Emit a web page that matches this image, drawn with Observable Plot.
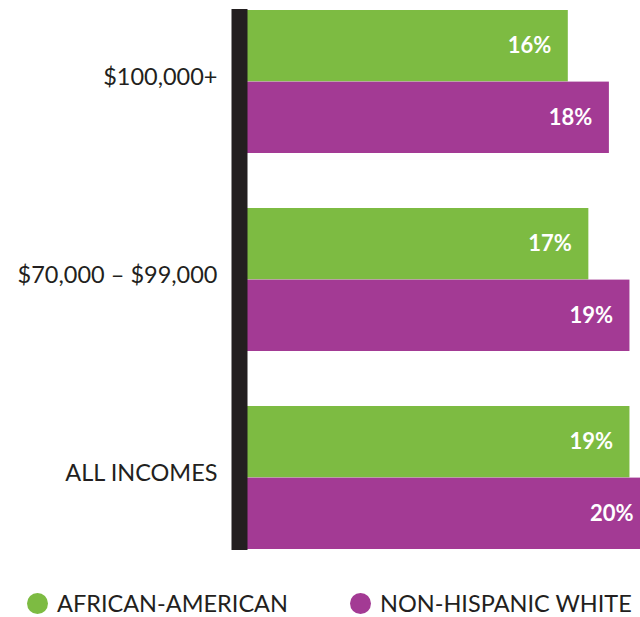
<!DOCTYPE html>
<html><head><meta charset="utf-8">
<script src="https://cdn.jsdelivr.net/npm/d3@7"></script>
<script src="https://cdn.jsdelivr.net/npm/@observablehq/plot@0.6"></script>
<style>
body{margin:0;background:#fff;font-family:Lato,sans-serif;overflow:hidden;}
#chart svg{display:block;}
#legend{position:relative;width:640px;height:57px;}
.item{position:absolute;top:32px;height:22px;line-height:22px;display:flex;align-items:center;font-size:23.5px;color:#231f20;white-space:nowrap;}
.dot{width:21px;height:21px;border-radius:50%;margin-right:9px;flex:none;}
</style></head><body><div id="chart"></div><div id="legend"></div><script>
const categories = ["$100,000+", "$70,000 – $99,000", "ALL INCOMES"];
const series = ["AFRICAN-AMERICAN", "NON-HISPANIC WHITE"];
const africanAmerican = [16, 17, 19];
const nonHispanicWhite = [18, 19, 20];
const colors = ["#7dbb42", "#a33a94"];

const aaData = categories.map((c, i) => ({category: c, series: series[0], value: africanAmerican[i]}));
const nhwData = categories.map((c, i) => ({category: c, series: series[1], value: nonHispanicWhite[i]}));

const half = 71.6; // half of the band: each series takes one half of its income group
const barOpts = {y: "category", x: "value", fill: "series"};
const labelOpts = {y: "category", x: "value", text: d => d.value + "%", textAnchor: "end",
  dx: -17, fill: "white", fontWeight: "bold", fontSize: 22};

const plot = Plot.plot({
  width: 640, height: 560,
  marginLeft: 239, marginRight: 0, marginTop: 9, marginBottom: 10,
  style: {fontFamily: "Lato, sans-serif", background: "white", color: "#231f20"},
  x: {domain: [0, 20], range: [239, 650], axis: null},
  y: {domain: categories, paddingInner: 0.28, paddingOuter: 0, axis: null, label: null},
  color: {domain: series, range: colors},
  marks: [
    Plot.barX(aaData, {...barOpts, insetBottom: half}),
    Plot.barX(nhwData, {...barOpts, insetTop: half}),
    Plot.text(aaData, {...labelOpts, dy: -half / 2}),
    Plot.text(nhwData, {...labelOpts, dy: half / 2}),
    Plot.text(categories, {y: d => d, text: d => d, frameAnchor: "left", textAnchor: "end",
      dx: -22, dy: -5, fontSize: 23.5, fill: "#231f20"}),
    Plot.ruleX([0], {stroke: "#231f20", strokeWidth: 16})
  ]
});
document.getElementById("chart").appendChild(plot);

const legend = document.getElementById("legend");
const legendX = [27, 350];
series.forEach((s, i) => {
  const item = document.createElement("div");
  item.className = "item";
  item.style.left = legendX[i] + "px";
  const dot = document.createElement("span");
  dot.className = "dot";
  dot.style.background = colors[i];
  const label = document.createElement("span");
  label.textContent = s;
  item.appendChild(dot);
  item.appendChild(label);
  legend.appendChild(item);
});
</script></body></html>
